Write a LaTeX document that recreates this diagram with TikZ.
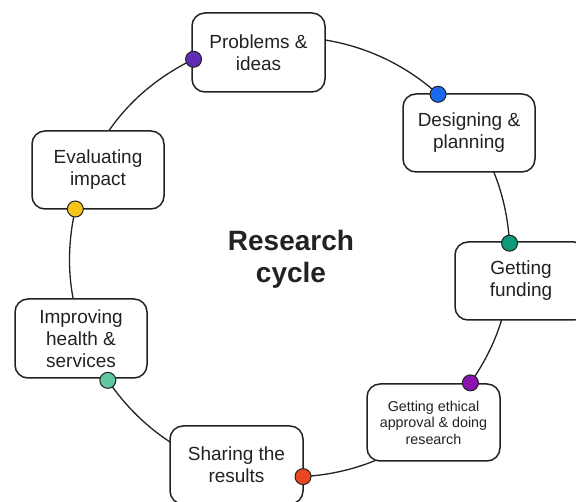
\documentclass[tikz,border=0pt]{standalone}
\usepackage{fontspec}
\setmainfont{Liberation Sans}
\usetikzlibrary{calc}
\definecolor{ink}{HTML}{222222}
\definecolor{cP}{HTML}{5F2DB8}
\definecolor{cD}{HTML}{1A6AF0}
\definecolor{cF}{HTML}{0E9A7A}
\definecolor{cE}{HTML}{8B12AE}
\definecolor{cS}{HTML}{EC4521}
\definecolor{cI}{HTML}{62C6A0}
\definecolor{cV}{HTML}{F6C41A}
\begin{document}
\begin{tikzpicture}[x=1pt,y=1pt,
  stagebox/.style={draw=ink, line width=1.5pt, fill=white, rounded corners=13pt,
    minimum width=132pt, minimum height=78pt, inner sep=0pt, align=center,
    text=ink, font=\fontsize{19}{22}\selectfont},
  smalltext/.style={font=\fontsize{14.3}{16.5}\selectfont},
  conn/.style={draw=ink, line width=1.3pt, looseness=0.93},
  dot/.style={circle, draw=ink, line width=1pt, minimum size=16pt, inner sep=0pt},
  title/.style={align=center, text=ink, font=\fontsize{28}{32}\selectfont\bfseries}]
\clip (0,0) rectangle (576,501);
\fill[white] (0,0) rectangle (576,501);
\coordinate (c) at (290,244);
\coordinate (p1) at ($(c)+(116:220)$);
\coordinate (p2) at ($(c)+(47.7:220)$);
\coordinate (p3) at ($(c)+(3.6:220)$);
\coordinate (p4) at ($(c)+(-34.9:220)$);
\coordinate (p5) at ($(c)+(-86.6:220)$);
\coordinate (p6) at ($(c)+(-145.9:220)$);
\coordinate (p7) at ($(c)+(167.4:220)$);
% connectors
\draw[conn] (p1) to[bend left=34.15] (p2);
\draw[conn] (p2) to[bend left=22.05] (p3);
\draw[conn] (p3) to[bend left=19.25] (p4);
\draw[conn] (p4) to[bend left=25.85] (p5);
\draw[conn] (p5) to[bend left=29.65] (p6);
\draw[conn] (p6) to[bend left=23.35] (p7);
\draw[conn] (p7) to[bend left=25.7] (p1);
% boxes
\node[stagebox, minimum width=133pt, minimum height=79pt] (b1) at (258.5,448.5) {Problems \&\\ideas};
\node[stagebox] (b2) at (469,368) {Designing \&\\planning};
\node[stagebox] (b3) at (521,220) {Getting\\funding};
\node[stagebox, smalltext, minimum width=133pt, minimum height=77pt] (b4) at (433.5,78.5) {Getting ethical\\approval \& doing\\research};
\node[stagebox, minimum width=133pt] (b5) at (236.5,36) {Sharing the\\results};
\node[stagebox, minimum height=79pt] (b6) at (81,162.5) {Improving\\health \&\\services};
\node[stagebox] (b7) at (98,331) {Evaluating\\impact};
% dots
\node[dot, fill=cP] (d1) at (p1) {};
\node[dot, fill=cD] (d2) at (p2) {};
\node[dot, fill=cF] (d3) at (p3) {};
\node[dot, fill=cE] (d4) at (p4) {};
\node[dot, fill=cS] (d5) at (p5) {};
\node[dot, fill=cI] (d6) at (p6) {};
\node[dot, fill=cV] (d7) at (p7) {};
% title
\node[title] (t) at (291,242) {Research\\cycle};
\end{tikzpicture}
\end{document}
